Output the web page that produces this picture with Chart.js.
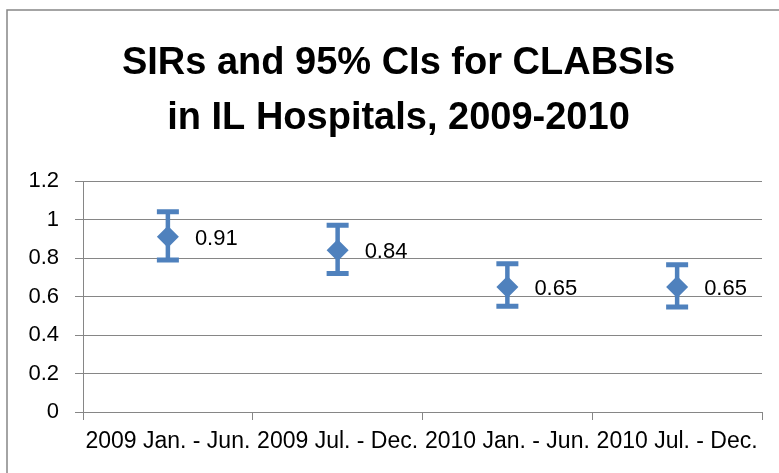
<!DOCTYPE html>
<html>
<head>
<meta charset="utf-8">
<script src="https://cdn.jsdelivr.net/npm/chart.js@4.4.1/dist/chart.umd.min.js"></script>
<style>
  html, body { margin: 0; padding: 0; background: #ffffff; }
  #wrap { width: 779px; height: 473px; position: relative; }
</style>
</head>
<body>
<div id="wrap"><canvas id="c" width="779" height="473"></canvas></div>
<script>
const categories = ['2009 Jan. - Jun.', '2009 Jul. - Dec.', '2010 Jan. - Jun.', '2010 Jul. - Dec.'];
const sirValues = [0.91, 0.84, 0.65, 0.65];
const ciLower = [0.79, 0.72, 0.55, 0.545];
const ciUpper = [1.04, 0.97, 0.77, 0.765];
const titleLines = ['SIRs and 95% CIs for CLABSIs', 'in IL Hospitals, 2009-2010'];

const BLUE = '#4F81BD';
const GRAY = '#868686';
const FONT = "'Liberation Sans', Arial, sans-serif";

const frame = {
  id: 'frame',
  beforeDraw(chart) {
    const ctx = chart.ctx;
    ctx.save();
    ctx.fillStyle = '#ffffff';
    ctx.fillRect(0, 0, chart.width, chart.height);
    ctx.strokeStyle = GRAY;
    ctx.lineWidth = 1.5;
    ctx.strokeRect(7, 10, chart.width + 20, chart.height + 20);
    ctx.restore();
  },
  afterLayout(chart) {
    // let the y tick labels extend left of the axis box without being clipped
    chart.scales.y.left = 0;
  }
};

const errorBars = {
  id: 'errorBars',
  beforeDatasetsDraw(chart) {
    const ctx = chart.ctx;
    const meta = chart.getDatasetMeta(0);
    const ys = chart.scales.y;
    ctx.save();
    ctx.strokeStyle = BLUE;
    meta.data.forEach((pt, i) => {
      const x = pt.x;
      const yHi = ys.getPixelForValue(ciUpper[i]);
      const yLo = ys.getPixelForValue(ciLower[i]);
      ctx.lineWidth = 4.5;
      ctx.beginPath();
      ctx.moveTo(x, yHi);
      ctx.lineTo(x, yLo);
      ctx.stroke();
      ctx.lineWidth = 5;
      ctx.beginPath();
      ctx.moveTo(x - 11, yHi);
      ctx.lineTo(x + 11, yHi);
      ctx.moveTo(x - 11, yLo);
      ctx.lineTo(x + 11, yLo);
      ctx.stroke();
    });
    ctx.restore();
  }
};

const dataLabels = {
  id: 'dataLabels',
  afterDatasetsDraw(chart) {
    const ctx = chart.ctx;
    const meta = chart.getDatasetMeta(0);
    ctx.save();
    ctx.fillStyle = '#000000';
    ctx.font = '22px ' + FONT;
    ctx.textAlign = 'left';
    ctx.textBaseline = 'middle';
    meta.data.forEach((pt, i) => {
      ctx.fillText(sirValues[i].toFixed(2), pt.x + 27, pt.y + 2);
    });
    ctx.restore();
  }
};

new Chart(document.getElementById('c'), {
  type: 'line',
  data: {
    labels: categories,
    datasets: [{
      label: 'SIR',
      data: sirValues,
      showLine: false,
      pointStyle: 'rectRot',
      pointRadius: 11,
      pointBackgroundColor: BLUE,
      pointBorderColor: BLUE,
      pointBorderWidth: 0
    }]
  },
  options: {
    responsive: false,
    animation: false,
    devicePixelRatio: 1,
    layout: { padding: { left: 35, right: 17, top: 10, bottom: 0 } },
    plugins: {
      legend: { display: false },
      tooltip: { enabled: false },
      title: {
        display: true,
        text: titleLines,
        color: '#000000',
        font: { family: FONT, size: 38, weight: 'bold', lineHeight: 55 / 38 },
        padding: { top: 26.5, bottom: 34.5 }
      }
    },
    scales: {
      x: {
        type: 'category',
        offset: true,
        afterFit(scale) { scale.height = 61; },
        grid: {
          display: true,
          drawOnChartArea: false,
          drawTicks: true,
          tickLength: 8,
          offset: true,
          color: GRAY,
          lineWidth: 1
        },
        border: { display: true, color: GRAY, width: 1 },
        ticks: {
          color: '#000000',
          font: { family: FONT, size: 23 },
          padding: 8,
          maxRotation: 0,
          minRotation: 0,
          autoSkip: false
        }
      },
      y: {
        min: 0,
        max: 1.2,
        afterFit(scale) { scale.width = 48; },
        grid: {
          color: GRAY,
          lineWidth: 1,
          drawTicks: true,
          tickLength: 8
        },
        border: { display: true, color: GRAY, width: 1 },
        ticks: {
          stepSize: 0.2,
          color: '#000000',
          font: { family: FONT, size: 22 },
          padding: 16,
          callback: (v) => String(Math.round(v * 10) / 10)
        }
      }
    }
  },
  plugins: [frame, errorBars, dataLabels]
});
</script>
</body>
</html>
